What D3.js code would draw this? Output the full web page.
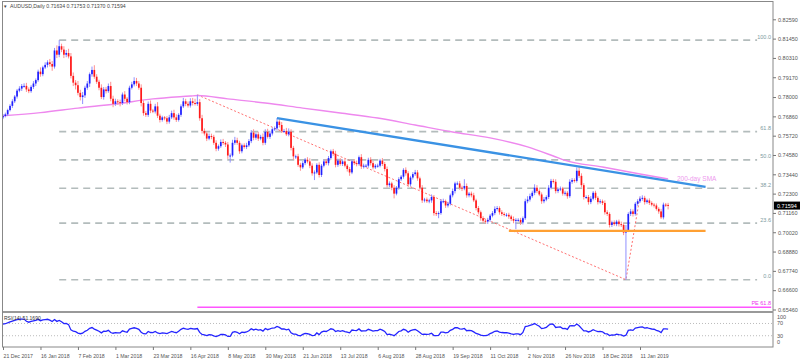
<!DOCTYPE html>
<html>
  <head>
    <style>
      body { margin: 0; background: #fff; }
      svg text { font-family: "Liberation Sans", Arial, sans-serif; }
    </style>
  </head>
  <body>
    <script src="https://d3js.org/d3.v7.min.js"></script>
    <script>
      // x axis labels, one every 16 daily bars
      const dateLabels = ["21 Dec 2017", "16 Jan 2018", "7 Feb 2018", "1 Mar 2018", "23 Mar 2018",
        "16 Apr 2018", "8 May 2018", "30 May 2018", "21 Jun 2018", "13 Jul 2018", "6 Aug 2018",
        "28 Aug 2018", "19 Sep 2018", "11 Oct 2018", "2 Nov 2018", "26 Nov 2018", "18 Dec 2018", "11 Jan 2019"];
      const priceTicks = [0.65460, 0.66600, 0.67740, 0.68880, 0.70020, 0.71160, 0.72300, 0.73440,
        0.74580, 0.75720, 0.76860, 0.78000, 0.79170, 0.80310, 0.81450, 0.82590];
      // last bar O H L C as shown in the header
      const lastOHLC = [0.71634, 0.71753, 0.71370, 0.71594];

      // daily closes in pips (x10000), one row per week
      const firstOpen = 7680;
      const closes = [
        7688, 7698,
        7723, 7748, 7775, 7803,
        7838, 7850, 7865, 7866,
        7845, 7835, 7860, 7880, 7900,
        7950, 7935, 7975, 7990, 8005,
        7995, 7980, 8075, 8050, 8100,
        8080, 8050, 8060, 8040, 7925,
        7885, 7870, 7825, 7800, 7810,
        7855, 7880, 7935, 7960, 7920,
        7890, 7855, 7800, 7845, 7835,
        7865, 7790, 7760, 7775, 7770,
        7765, 7815, 7790, 7770, 7855,
        7875, 7895, 7880, 7855, 7765,
        7705, 7695, 7760, 7720, 7715,
        7745, 7690, 7665, 7680, 7675,
        7655, 7680, 7705, 7680, 7665,
        7695, 7745, 7775, 7760, 7750,
        7775, 7765, 7760, 7770, 7675,
        7600, 7585, 7555, 7570, 7565,
        7530, 7495, 7510, 7535, 7530,
        7520, 7455, 7455, 7530, 7545,
        7530, 7480, 7515, 7505, 7515,
        7540, 7590, 7560, 7580, 7555,
        7565, 7530, 7595, 7565, 7585,
        7610, 7615, 7655, 7635, 7600,
        7600, 7580, 7595, 7500, 7450,
        7450, 7400, 7385, 7410, 7430,
        7420, 7395, 7350, 7355, 7400,
        7340, 7395, 7420, 7410, 7440,
        7480, 7465, 7400, 7425, 7405,
        7420, 7395, 7375, 7355, 7420,
        7410, 7405, 7445, 7390, 7395,
        7395, 7430, 7410, 7385, 7395,
        7395, 7425, 7405, 7375, 7280,
        7290, 7265, 7230, 7265, 7315,
        7330, 7370, 7350, 7285, 7325,
        7345, 7355, 7320, 7265, 7190,
        7195, 7185, 7190, 7210, 7115,
        7110, 7115, 7185, 7185, 7160,
        7170, 7220, 7245, 7290, 7290,
        7265, 7260, 7275, 7220, 7230,
        7220, 7190, 7145, 7120, 7085,
        7070, 7065, 7075, 7100, 7115,
        7140, 7145, 7120, 7110, 7105,
        7105, 7095, 7080, 7070, 7075,
        7075, 7060, 7085, 7185, 7195,
        7215, 7235, 7265, 7245, 7225,
        7185, 7195, 7210, 7265, 7305,
        7300, 7245, 7255, 7260, 7230,
        7235, 7215, 7300, 7310, 7305,
        7365, 7335, 7280, 7210, 7210,
        7180, 7200, 7235, 7205, 7180,
        7185, 7175, 7120, 7110, 7045,
        7060, 7050, 7065, 7050,
        7045, 7000, 7015, 7110,
        7125, 7110, 7170, 7185, 7200,
        7205, 7180, 7190, 7175, 7165,
        7160, 7140, 7125, 7090, 7165,
        7163.4, 7159.4
      ];
      // wick lengths above / below the body, pips
      const wickUp = [
        12, 10,
        8, 10, 12, 9,
        10, 14, 12, 15,
        18, 12, 10, 14, 10,
        12, 25, 10, 15, 12,
        20, 18, 15, 30, 36,
        15, 20, 18, 25, 20,
        20, 15, 25, 18, 20,
        12, 15, 10, 20, 28,
        15, 12, 20, 14, 15,
        15, 25, 18, 15, 12,
        15, 12, 20, 10, 12,
        15, 22, 18, 15, 20,
        15, 12, 14, 20, 10,
        15, 25, 12, 10, 8,
        12, 15, 15, 20, 18,
        10, 12, 20, 15, 14,
        18, 20, 25, 43, 18,
        20, 15, 12, 15, 14,
        12, 15, 10, 15, 18,
        10, 15, 12, 18, 20,
        15, 12, 10, 12, 15,
        12, 15, 20, 10, 15,
        12, 20, 15, 18, 12,
        10, 12, 21, 15, 18,
        12, 18, 20, 15, 12,
        10, 15, 12, 12, 10,
        15, 18, 14, 12, 10,
        15, 10, 12, 15, 12,
        10, 14, 18, 12, 15,
        12, 15, 10, 12, 10,
        14, 15, 10, 18, 12,
        10, 12, 15, 14, 10,
        12, 10, 15, 12, 15,
        12, 10, 15, 10, 12,
        10, 10, 15, 12, 10,
        12, 15, 14, 10, 15,
        10, 12, 10, 15, 12,
        12, 10, 12, 15, 10,
        12, 10, 15, 10, 12,
        15, 12, 40, 15, 10,
        12, 15, 10, 12, 10,
        12, 10, 12, 10, 12,
        15, 12, 10, 12, 10,
        10, 12, 10, 15, 10,
        10, 12, 10, 15, 20,
        15, 12, 20, 15, 10,
        12, 15, 10, 15, 12,
        12, 15, 10, 12, 10,
        12, 10, 15, 12, 10,
        20, 29, 15, 12, 10,
        12, 15, 10, 12, 10,
        12, 10, 15, 12, 10,
        10, 12, 10, 12,
        15, 12, 30, 10,
        15, 12, 10, 12, 15,
        15, 12, 10, 12, 10,
        10, 12, 10, 15, 12,
        10, 11.9
      ];
      const wickDn = [
        10, 8,
        10, 8, 12, 10,
        12, 10, 14, 10,
        15, 12, 10, 12, 15,
        10, 15, 12, 10, 15,
        15, 25, 12, 20, 15,
        15, 20, 15, 12, 15,
        20, 25, 15, 20, 41,
        15, 12, 20, 15, 12,
        12, 15, 12, 15, 14,
        10, 15, 20, 12, 15,
        20, 12, 15, 14, 12,
        10, 12, 15, 12, 20,
        15, 12, 12, 15, 10,
        12, 14, 15, 10, 12,
        15, 12, 10, 14, 12,
        10, 12, 10, 14, 12,
        12, 15, 10, 12, 15,
        15, 12, 15, 10, 14,
        12, 15, 12, 10, 12,
        15, 20, 42, 10, 12,
        12, 15, 12, 10, 12,
        10, 12, 15, 12, 14,
        10, 15, 12, 10, 12,
        12, 10, 12, 15, 12,
        12, 10, 12, 15, 20,
        15, 12, 20, 10, 12,
        12, 15, 14, 40, 10,
        15, 12, 10, 12, 14,
        10, 12, 15, 12, 10,
        12, 10, 15, 20, 10,
        12, 14, 10, 15, 12,
        10, 12, 14, 12, 10,
        12, 10, 12, 14, 15,
        12, 15, 28, 10, 12,
        10, 12, 14, 15, 12,
        12, 10, 14, 12, 15,
        12, 10, 12, 14, 15,
        12, 25, 10, 12, 14,
        12, 10, 12, 14, 10,
        12, 15, 10, 14, 12,
        12, 10, 14, 12, 15,
        15, 12, 14, 12, 10,
        12, 10, 14, 12, 10,
        12, 14, 12, 15, 50,
        12, 15, 12, 10, 12,
        12, 10, 14, 12, 10,
        15, 12, 10, 12, 10,
        10, 14, 12, 10, 12,
        12, 15, 10, 12, 10,
        10, 12, 14, 15, 12,
        15, 12, 10, 12, 14,
        10, 12, 14, 12, 15,
        12, 10, 12, 14,
        12, 15, 278, 12,
        12, 15, 10, 12, 10,
        12, 15, 10, 12, 10,
        12, 10, 14, 10, 12,
        12, 22.4
      ];

      // 200-day SMA read at some bars (bar index, price)
      const smaIdx = [0, 16, 32, 48, 64, 80, 83, 96, 112, 128, 144, 160, 176, 192, 208, 224, 235, 240, 256, 272, 284];
      const smaVals = [0.7690, 0.7708, 0.7735, 0.7759, 0.7789, 0.7806, 0.7809, 0.7789, 0.7765, 0.7735, 0.7706,
        0.7676, 0.7635, 0.7594, 0.7559, 0.7506, 0.7452, 0.7426, 0.7387, 0.7346, 0.7317];

      // drawn objects
      const blueLine = [{i: 117, v: 0.7676}, {i: 300, v: 0.7270}];
      const orangeLine = [{i: 216, v: 0.7010}, {i: 300, v: 0.7010}];
      const expansionPts = [{i: 83, v: 0.7813}, {i: 266, v: 0.6722}, {i: 272, v: 0.7215}];
      const peLevel = {label: "PE 61.8", v: 0.6560, from: 83, to: 328};
      const fibHigh = {i: 24, v: 0.8136}, fibLow = {i: 266, v: 0.6722}, fibEnd = 322;
      const fibLevels = [100, 61.8, 50, 38.2, 23.6, 0];
      const rsiSeed = {gain: 12, loss: 6};

      const W = 800, H = 362;
      const left = 3, right = 773, mainTop = 2, mainBottom = 312, rsiBottom = 347;

      const svg = d3.select("body").append("svg").attr("width", W).attr("height", H);

      const x = d3.scaleLinear().domain([0, 272]).range([3, 640]);
      const y = d3.scaleLinear().domain([0.65460, 0.82590]).range([309.5, 19.3]);
      const yR = d3.scaleLinear().domain([0, 100]).range([344.9, 314.3]);
      const f5 = d3.format(".5f");

      const bars = closes.map((c, i) => {
        const o = i == 0 ? firstOpen : closes[i - 1];
        return {i: i, o: o / 1e4, c: c / 1e4,
          h: (Math.max(o, c) + wickUp[i]) / 1e4, l: (Math.min(o, c) - wickDn[i]) / 1e4};
      });

      // fib retracement
      const fib = svg.append("g");
      fibLevels.forEach(lv => {
        const v = fibLow.v + (fibHigh.v - fibLow.v) * lv / 100;
        fib.append("line")
          .attr("x1", x(fibHigh.i)).attr("x2", x(fibEnd))
          .attr("y1", y(v)).attr("y2", y(v))
          .attr("stroke", "#b3bcbc").attr("stroke-width", 1.6)
          .attr("stroke-dasharray", "7,5");
        fib.append("text")
          .attr("x", 771).attr("y", y(v) - 1.5)
          .attr("text-anchor", "end")
          .attr("font-size", 5.5).attr("fill", "#7d9aa0")
          .text(lv.toFixed(1));
      });

      // PE level
      svg.append("line")
        .attr("x1", x(peLevel.from)).attr("x2", x(peLevel.to))
        .attr("y1", y(peLevel.v)).attr("y2", y(peLevel.v))
        .attr("stroke", "#ff55ff").attr("stroke-width", 1.5);
      svg.append("text")
        .attr("x", 771).attr("y", y(peLevel.v) - 2)
        .attr("text-anchor", "end").attr("font-size", 5.5).attr("fill", "#ee33ee")
        .text(peLevel.label);

      // expansion dotted lines
      const lineGen = d3.line().x(d => x(d.i)).y(d => y(d.v));
      svg.append("path").attr("d", lineGen(expansionPts))
        .attr("fill", "none").attr("stroke", "#ff6060").attr("stroke-width", 0.9)
        .attr("stroke-dasharray", "2,2");

      // 200 SMA
      const sma = smaIdx.map((d, k) => ({i: d, v: smaVals[k]}));
      svg.append("path")
        .attr("d", d3.line().x(d => x(d.i)).y(d => y(d.v)).curve(d3.curveMonotoneX)(sma))
        .attr("fill", "none").attr("stroke", "#ee88ee").attr("stroke-width", 1.4);

      // candles
      const cg = svg.append("g");
      cg.selectAll("line").data(bars).join("line")
        .attr("x1", d => x(d.i)).attr("x2", d => x(d.i))
        .attr("y1", d => y(d.h)).attr("y2", d => y(d.l))
        .attr("stroke", d => d.c >= d.o ? "#8f8fff" : "#ff9090")
        .attr("stroke-width", 1);
      cg.selectAll("rect").data(bars).join("rect")
        .attr("x", d => x(d.i) - 0.85)
        .attr("width", 1.7)
        .attr("y", d => y(Math.max(d.o, d.c)))
        .attr("height", d => Math.max(1, Math.abs(y(d.o) - y(d.c))))
        .attr("fill", d => d.c >= d.o ? "#2020ff" : "#ff1a1a");

      // trend lines
      svg.append("path").attr("d", lineGen(blueLine))
        .attr("stroke", "#3a92e4").attr("stroke-width", 2.4).attr("fill", "none");
      svg.append("path").attr("d", lineGen(orangeLine))
        .attr("stroke", "#ffa033").attr("stroke-width", 2.2).attr("fill", "none");
      svg.append("text").attr("x", 677).attr("y", 181)
        .attr("font-size", 6.5).attr("fill", "#ee99ee").text("200-day SMA");

      // frame
      svg.append("rect").attr("x", left - 0.5).attr("y", mainTop - 0.5)
        .attr("width", right - left + 0.5).attr("height", rsiBottom - mainTop + 0.5)
        .attr("fill", "none").attr("stroke", "#888").attr("stroke-width", 1);
      svg.append("line").attr("x1", left).attr("x2", right)
        .attr("y1", mainBottom).attr("y2", mainBottom)
        .attr("stroke", "#999").attr("stroke-width", 2);

      // price axis
      const ya = svg.append("g").attr("transform", `translate(${right},0)`)
        .call(d3.axisRight(y).tickValues(priceTicks).tickSize(3).tickPadding(2).tickFormat(f5));
      ya.select(".domain").remove();
      ya.selectAll("line").attr("stroke", "#777");
      ya.selectAll("text").attr("font-size", 5.5).attr("fill", "#555")
        .style("font-family", "Liberation Sans, Arial, sans-serif");

      // last price box
      svg.append("rect").attr("x", right + 1).attr("y", y(lastOHLC[3]) - 4)
        .attr("width", 26).attr("height", 8).attr("fill", "#000");
      svg.append("text").attr("x", right + 4).attr("y", y(lastOHLC[3]) + 2)
        .attr("font-size", 5.5).attr("fill", "#fff").text(f5(lastOHLC[3]));

      // title
      svg.append("text").attr("x", 3).attr("y", 8).attr("font-size", 4.5).attr("fill", "#444").text("\u25BC");
      svg.append("text").attr("x", 10).attr("y", 8).attr("font-size", 5.2).attr("fill", "#444")
        .text("AUDUSD,Daily  " + lastOHLC.map(f5).join(" "));

      // RSI(14)
      let ag = rsiSeed.gain, al = rsiSeed.loss;
      const rsi = closes.map((c, i) => {
        const ch = c - (i == 0 ? firstOpen : closes[i - 1]);
        ag = (ag * 13 + Math.max(ch, 0)) / 14;
        al = (al * 13 + Math.max(-ch, 0)) / 14;
        return {i: i, v: al == 0 ? 100 : 100 - 100 / (1 + ag / al)};
      });
      [70, 30].forEach(lv => {
        svg.append("line").attr("x1", left).attr("x2", right)
          .attr("y1", yR(lv)).attr("y2", yR(lv))
          .attr("stroke", "#aaa").attr("stroke-width", 0.8).attr("stroke-dasharray", "1,2");
      });
      svg.append("path")
        .attr("d", d3.line().x(d => x(d.i)).y(d => yR(d.v))(rsi))
        .attr("fill", "none").attr("stroke", "#2424ff").attr("stroke-width", 1.3);
      svg.append("text").attr("x", 4).attr("y", 319.5).attr("font-size", 5).attr("fill", "#333")
        .text("RSI(14) 51.1690");
      const rsiLabels = [{t: "100", y: yR(100) + 4.5}, {t: "70", y: yR(70) + 2}, {t: "30", y: yR(30) + 2}, {t: "0", y: yR(0) - 1}];
      rsiLabels.forEach(d => {
        svg.append("text").attr("x", right + 4).attr("y", d.y)
          .attr("font-size", 5.5).attr("fill", "#555").text(d.t);
      });

      // time axis
      const xa = svg.append("g").attr("transform", `translate(0,${rsiBottom})`)
        .call(d3.axisBottom(x).tickValues(d3.range(0, 273, 16)).tickSize(3)
          .tickFormat((d, k) => dateLabels[k]));
      xa.select(".domain").remove();
      xa.selectAll("line").attr("stroke", "#777");
      xa.selectAll("text").attr("font-size", 5.2).attr("fill", "#555")
        .attr("text-anchor", "start").attr("x", 0).attr("dy", "0.9em")
        .style("font-family", "Liberation Sans, Arial, sans-serif");
    </script>
  </body>
</html>
